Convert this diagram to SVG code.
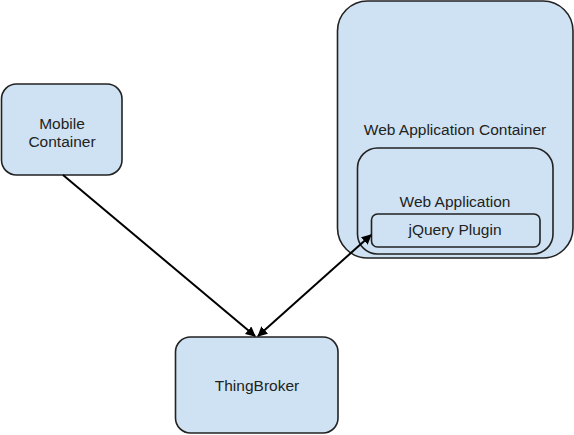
<svg xmlns="http://www.w3.org/2000/svg" width="574" height="435" viewBox="0 0 574 435">
<style>
.box{fill:#cfe2f3;stroke:#222;stroke-width:1.6}
.lbl{font-family:"Liberation Sans",Arial,sans-serif;font-size:15.5px;fill:#222;text-anchor:middle}
.con{stroke:#000;stroke-width:2;fill:none}
</style>
<defs>
<marker id="ah" viewBox="0 0 10 10" refX="9" refY="5" markerWidth="5" markerHeight="5" orient="auto-start-reverse" markerUnits="strokeWidth">
<path d="M0,0 L10,5 L0,10 z" fill="#000"/>
</marker>
</defs>
<rect width="574" height="435" fill="#fff"/>
<g id="mobile">
<rect class="box" x="1.5" y="84" width="120.5" height="91" rx="15"/>
<text class="lbl" x="62" y="129">Mobile</text>
<text class="lbl" x="62" y="147">Container</text>
</g>
<g id="webcontainer">
<rect class="box" x="337.5" y="1" width="235.5" height="257" rx="30"/>
<text class="lbl" x="455" y="135">Web Application Container</text>
</g>
<g id="webapp">
<rect class="box" x="357.5" y="148" width="195.5" height="106" rx="20"/>
<text class="lbl" x="455" y="207">Web Application</text>
</g>
<g id="jquery">
<rect class="box" x="371.5" y="214" width="168.5" height="33" rx="6"/>
<text class="lbl" x="455" y="235">jQuery Plugin</text>
</g>
<g id="thingbroker">
<rect class="box" x="175.5" y="337" width="162.5" height="96" rx="15"/>
<text class="lbl" x="257" y="391">ThingBroker</text>
</g>
<g id="connectors">
<line class="con" x1="63" y1="175" x2="255" y2="336" marker-end="url(#ah)"/>
<line class="con" x1="258" y1="336" x2="371" y2="235" marker-start="url(#ah)" marker-end="url(#ah)"/>
</g>
</svg>
